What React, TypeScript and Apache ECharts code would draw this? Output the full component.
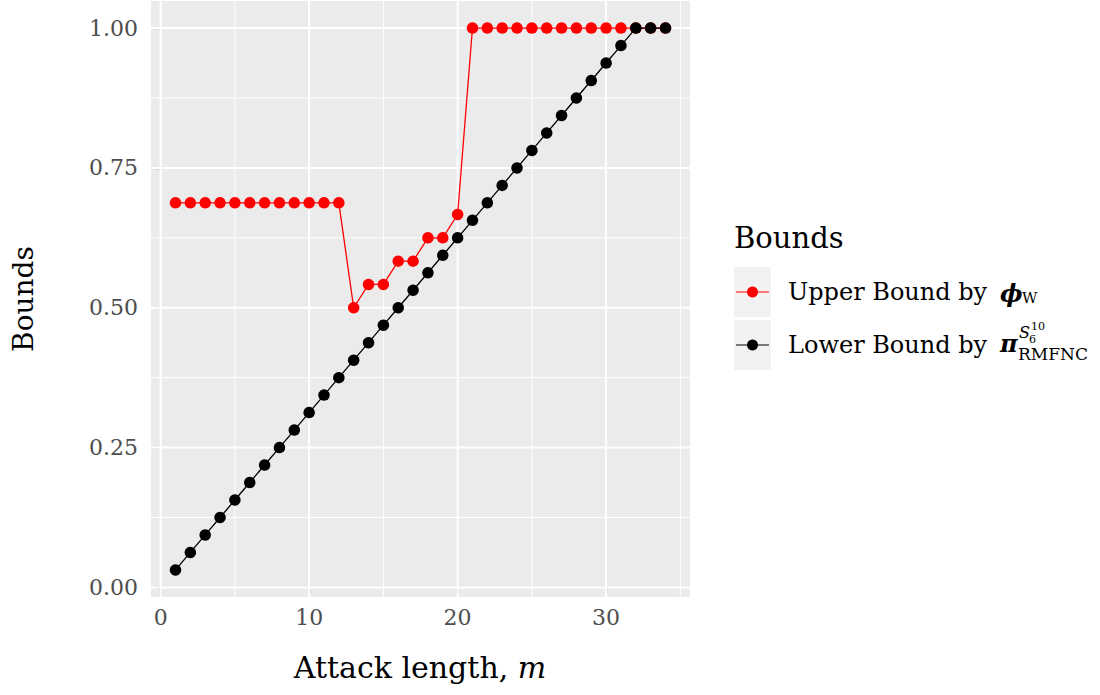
import React, { useEffect, useRef } from "react";
import * as echarts from "echarts";

const attackLength = [1, 2, 3, 4, 5, 6, 7, 8, 9, 10, 11, 12, 13, 14, 15, 16, 17, 18, 19, 20, 21, 22, 23, 24, 25, 26, 27, 28, 29, 30, 31, 32, 33, 34];
const upperBound = [0.6875, 0.6875, 0.6875, 0.6875, 0.6875, 0.6875, 0.6875, 0.6875, 0.6875, 0.6875, 0.6875, 0.6875, 0.5, 0.5417, 0.5417, 0.5833, 0.5833, 0.625, 0.625, 0.6667, 1, 1, 1, 1, 1, 1, 1, 1, 1, 1, 1, 1, 1, 1];
const lowerBound = [0.03125, 0.0625, 0.09375, 0.125, 0.15625, 0.1875, 0.21875, 0.25, 0.28125, 0.3125, 0.34375, 0.375, 0.40625, 0.4375, 0.46875, 0.5, 0.53125, 0.5625, 0.59375, 0.625, 0.65625, 0.6875, 0.71875, 0.75, 0.78125, 0.8125, 0.84375, 0.875, 0.90625, 0.9375, 0.96875, 1, 1, 1];
const xMajorTicks = [0, 10, 20, 30];
const xMinorTicks = [5, 15, 25, 35];
const yMajorTicks = [0, 0.25, 0.5, 0.75, 1];
const yMinorTicks = [0.125, 0.375, 0.625, 0.875];

const X_MIN = -0.65;
const X_MAX = 35.65;
const Y_MIN = -0.0172;
const Y_MAX = 1.0484;
const FONT = "DejaVu Serif";

export default function App() {
  const ref = useRef<HTMLDivElement>(null);
  useEffect(() => {
    document.body.style.margin = "0";
    const chart = echarts.init(ref.current!, null, { renderer: "svg" });
    const gridSeries = (pts: number[][], width: number) => ({
      type: "line",
      data: pts,
      z: 1,
      silent: true,
      symbol: "none",
      lineStyle: { color: "#FFFFFF", width },
    });
    const gridLines: any[] = [
      ...xMinorTicks.map((v) => gridSeries([[v, Y_MIN], [v, Y_MAX]], 1)),
      ...yMinorTicks.map((v) => gridSeries([[X_MIN, v], [X_MAX, v]], 1)),
      ...xMajorTicks.map((v) => gridSeries([[v, Y_MIN], [v, Y_MAX]], 2)),
      ...yMajorTicks.map((v) => gridSeries([[X_MIN, v], [X_MAX, v]], 2)),
    ];
    const legendRow = (y: number, color: string) => [
      { type: "rect", shape: { x: 734, y: y - 25, width: 37, height: 50 }, style: { fill: "#F2F2F2" } },
      { type: "line", shape: { x1: 736, y1: y, x2: 769, y2: y }, style: { stroke: color, lineWidth: 1.2 } },
      { type: "circle", shape: { cx: 752.5, cy: y, r: 5.5 }, style: { fill: color } },
    ];
    chart.setOption({
      animation: false,
      grid: {
        left: 151,
        top: 1,
        right: 410,
        bottom: 98,
        show: true,
        backgroundColor: "#EBEBEB",
        borderWidth: 0,
      },
      xAxis: {
        type: "value",
        min: X_MIN,
        max: X_MAX,
        axisLine: { show: false },
        splitLine: { show: false },
        axisTick: { show: true, length: 6, customValues: xMajorTicks, lineStyle: { color: "#333333", width: 1.2 } },
        axisLabel: { customValues: xMajorTicks, margin: 9, color: "#4D4D4D", fontFamily: FONT, fontSize: 22 },
      },
      yAxis: {
        type: "value",
        min: Y_MIN,
        max: Y_MAX,
        axisLine: { show: false },
        splitLine: { show: false },
        axisTick: { show: true, length: 6, customValues: yMajorTicks, lineStyle: { color: "#333333", width: 1.2 } },
        axisLabel: {
          customValues: yMajorTicks,
          margin: 13,
          color: "#4D4D4D",
          fontFamily: FONT,
          fontSize: 22,
          formatter: (v: number) => v.toFixed(2),
        },
      },
      series: [
        ...gridLines,
        {
          name: "Upper Bound",
          type: "line",
          z: 3,
          data: attackLength.map((x, i) => [x, upperBound[i]]),
          symbol: "circle",
          symbolSize: 11.5,
          itemStyle: { color: "#FF0000" },
          lineStyle: { color: "#FF0000", width: 1.3 },
        },
        {
          name: "Lower Bound",
          type: "line",
          z: 4,
          data: attackLength.map((x, i) => [x, lowerBound[i]]),
          symbol: "circle",
          symbolSize: 11.5,
          itemStyle: { color: "#000000" },
          lineStyle: { color: "#000000", width: 1.3 },
        },
      ],
      graphic: [
        {
          type: "text",
          x: 23,
          y: 299,
          rotation: Math.PI / 2,
          style: { text: "Bounds", fontFamily: FONT, fontSize: 28, fill: "#000", align: "center", verticalAlign: "middle" },
        },
        {
          type: "text",
          x: 420,
          y: 667,
          style: {
            text: "{n|Attack length, }{i|m}",
            align: "center",
            verticalAlign: "middle",
            rich: {
              n: { fontFamily: FONT, fontSize: 30, fill: "#000" },
              i: { fontFamily: FONT, fontSize: 30, fontStyle: "italic", fill: "#000" },
            },
          },
        },
        {
          type: "text",
          x: 734,
          y: 238,
          style: { text: "Bounds", fontFamily: FONT, fontSize: 29, fill: "#000", verticalAlign: "middle" },
        },
        ...legendRow(292, "#FF0000"),
        ...legendRow(345, "#000000"),
        { type: "text", x: 788, y: 292, style: { text: "Upper Bound by", fontFamily: FONT, fontSize: 24, fill: "#000", verticalAlign: "middle" } },
        { type: "text", x: 1000, y: 293, style: { text: "ϕ", fontFamily: FONT, fontSize: 24, fontWeight: "bold", fontStyle: "italic", fill: "#000", verticalAlign: "middle" } },
        { type: "text", x: 1022, y: 298, style: { text: "W", fontFamily: FONT, fontSize: 15, fill: "#000", verticalAlign: "middle" } },
        { type: "text", x: 788, y: 345, style: { text: "Lower Bound by", fontFamily: FONT, fontSize: 24, fill: "#000", verticalAlign: "middle" } },
        { type: "text", x: 1000, y: 343, style: { text: "π", fontFamily: FONT, fontSize: 24, fontWeight: "bold", fontStyle: "italic", fill: "#000", verticalAlign: "middle" } },
        { type: "text", x: 1019, y: 332, style: { text: "S", fontFamily: FONT, fontSize: 16, fontStyle: "italic", fill: "#000", verticalAlign: "middle" } },
        { type: "text", x: 1031, y: 326, style: { text: "10", fontFamily: FONT, fontSize: 11, fill: "#000", verticalAlign: "middle" } },
        { type: "text", x: 1029, y: 339, style: { text: "6", fontFamily: FONT, fontSize: 11, fill: "#000", verticalAlign: "middle" } },
        { type: "text", x: 1018, y: 354, style: { text: "RMFNC", fontFamily: FONT, fontSize: 17, fill: "#000", verticalAlign: "middle" } },
      ],
    });
    return () => chart.dispose();
  }, []);
  return <div ref={ref} style={{ width: 1100, height: 695 }} />;
}
